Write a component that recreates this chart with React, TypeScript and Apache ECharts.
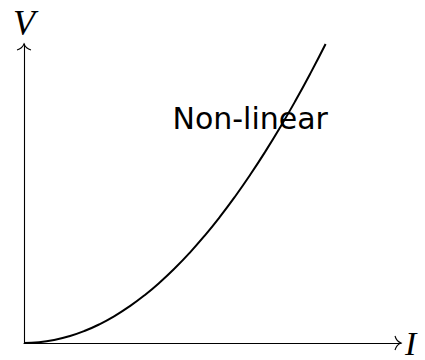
import React, { useEffect, useRef } from "react";
import * as echarts from "echarts";

const I_VALUES = [0, 0.05, 0.1, 0.15, 0.2, 0.25, 0.3, 0.35, 0.4, 0.45, 0.5, 0.55, 0.6, 0.65, 0.7, 0.75, 0.8, 0.85, 0.9, 0.95, 1];
const V_VALUES = [0, 0.0025, 0.01, 0.0225, 0.04, 0.0625, 0.09, 0.1225, 0.16, 0.2025, 0.25, 0.3025, 0.36, 0.4225, 0.49, 0.5625, 0.64, 0.7225, 0.81, 0.9025, 1];
const X_MAX = 1.25;
const Y_MAX = 1;
const X_NAME = "I";
const Y_NAME = "V";
const ANNOTATION_TEXT = "Non-linear";
const ANNOTATION_POS = [0.75, 0.75];

export default function App() {
  const ref = useRef<HTMLDivElement>(null);
  useEffect(() => {
    if (!ref.current) return;
    const chart = echarts.init(ref.current, undefined, { renderer: "svg" });
    const nameStyle = {
      fontFamily: "Liberation Serif",
      fontStyle: "italic" as const,
      fontSize: 36,
      color: "#000",
    };
    const axisCommon = {
      type: "value" as const,
      axisTick: { show: false },
      axisLabel: { show: false },
      splitLine: { show: false },
      axisLine: { show: true, lineStyle: { color: "#000", width: 1.1 } },
      nameLocation: "end" as const,
    };
    chart.setOption({
      animation: false,
      backgroundColor: "#fff",
      grid: { left: 24, right: 24, top: 44, bottom: 14, containLabel: false },
      xAxis: {
        ...axisCommon,
        min: 0,
        max: X_MAX,
        name: X_NAME,
        nameGap: 4,
        nameTextStyle: { ...nameStyle, fontSize: 34 },
      },
      yAxis: { ...axisCommon, min: 0, max: Y_MAX, name: Y_NAME, nameGap: 3, nameTextStyle: nameStyle },
      series: [
        {
          type: "line",
          data: I_VALUES.map((x, k) => [x, V_VALUES[k]]),
          smooth: true,
          symbol: "none",
          lineStyle: { color: "#000", width: 2 },
          silent: true,
        },
        {
          type: "custom",
          clip: false,
          silent: true,
          data: [ANNOTATION_POS],
          renderItem: (params: any, api: any) => {
            const [x, y] = api.coord([api.value(0), api.value(1)]);
            return {
              type: "text",
              x,
              y,
              style: {
                text: ANNOTATION_TEXT,
                fill: "#000",
                font: "30px 'DejaVu Sans'",
                align: "center",
                verticalAlign: "middle",
              },
            };
          },
        },
        {
          type: "custom",
          clip: false,
          silent: true,
          data: [[X_MAX, 0, 0], [0, Y_MAX, 1]],
          renderItem: (params: any, api: any) => {
            const p = api.coord([api.value(0), api.value(1)]);
            const dir = api.value(2);
            const [tx, ty] = p;
            let d: string;
            if (dir === 0) {
              d = `M${tx - 6} ${ty - 7} C${tx - 5} ${ty - 3.5} ${tx - 2} ${ty - 0.8} ${tx} ${ty} C${tx - 2} ${ty + 0.8} ${tx - 5} ${ty + 3.5} ${tx - 6} ${ty + 7}`;
            } else {
              d = `M${tx - 7} ${ty + 6} C${tx - 3.5} ${ty + 5} ${tx - 0.8} ${ty + 2} ${tx} ${ty} C${tx + 0.8} ${ty + 2} ${tx + 3.5} ${ty + 5} ${tx + 7} ${ty + 6}`;
            }
            return {
              type: "path",
              shape: { pathData: d },
              style: { stroke: "#000", fill: "none", lineWidth: 1.1 },
            };
          },
        },
      ],
    });
    return () => chart.dispose();
  }, []);
  return (
    <div
      ref={ref}
      style={{ position: "fixed", left: 0, top: 0, width: 425, height: 360, background: "#fff" }}
    />
  );
}
